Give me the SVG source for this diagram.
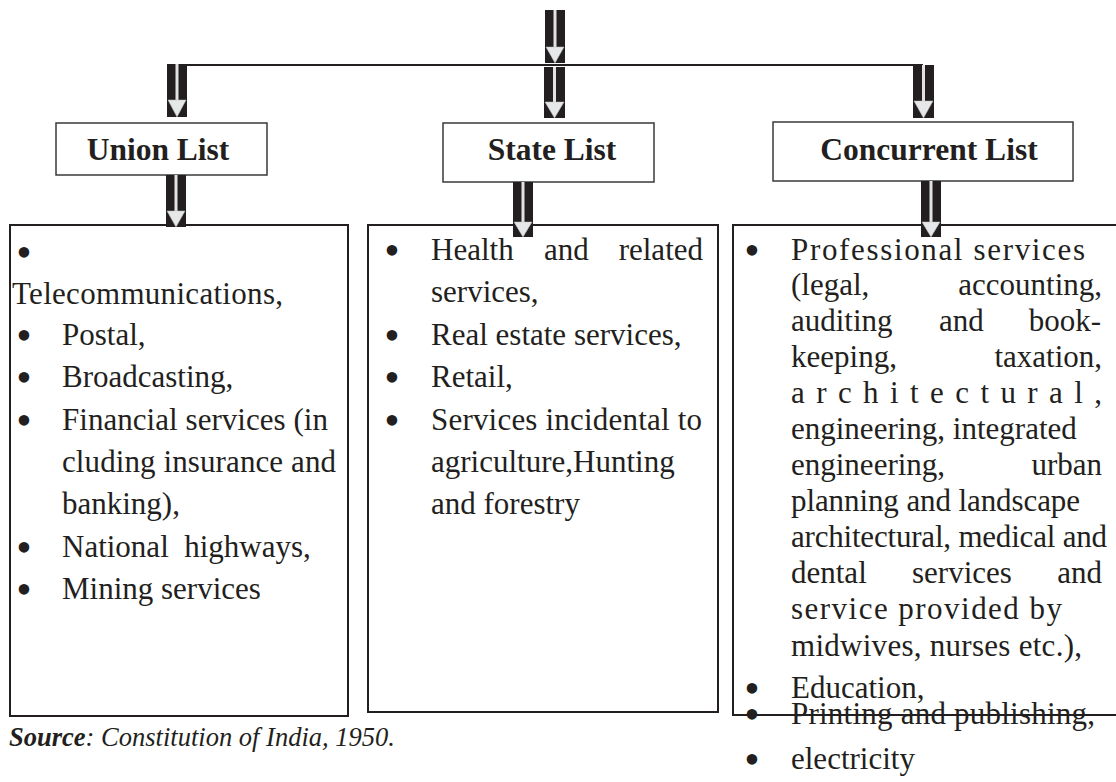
<svg xmlns="http://www.w3.org/2000/svg" width="1116" height="782" viewBox="0 0 1116 782">
<style>
.box{fill:#fff;stroke:#231f20;stroke-width:2}
.hbox{fill:#fff;stroke:#3a3a3a;stroke-width:1.5}
.h{font-family:"Liberation Serif","Times New Roman",serif;font-weight:bold;font-size:31.5px;fill:#231f20;text-anchor:middle}
.t{font-family:"Liberation Serif","Times New Roman",serif;font-size:31px;fill:#231f20}
.e{text-anchor:end}
.b{font-family:"Liberation Serif","Times New Roman",serif;font-size:44px;fill:#231f20;text-anchor:middle}
.src{font-family:"Liberation Serif","Times New Roman",serif;font-size:26.5px;font-style:italic;fill:#231f20}
.ar{fill:#231f20}
.st{stroke:#e2e2e2;stroke-width:3}
.hd{fill:#e6e7e8;stroke:#bcbcbc;stroke-width:0.5}
.ln{stroke:#231f20;stroke-width:2.2;fill:none}
</style>
<g id="connectors">
  <line class="ln" x1="187" y1="65" x2="923" y2="65"/>
  <rect class="ar" x="545" y="10" width="20" height="53"/>
  <line class="st" x1="555" y1="10" x2="555" y2="47"/>
  <polygon class="hd" points="546,47 564,47 555,63"/>
  <rect class="ar" x="544" y="67" width="21" height="51"/>
  <line class="st" x1="554.5" y1="67" x2="554.5" y2="102"/>
  <polygon class="hd" points="545,102 564,102 554.5,118"/>
  <rect class="ar" x="167" y="64" width="20" height="53"/>
  <line class="st" x1="177" y1="64" x2="177" y2="100"/>
  <polygon class="hd" points="168,100 186,100 177,117"/>
  <rect class="ar" x="913" y="65" width="21" height="53"/>
  <line class="st" x1="923.5" y1="65" x2="923.5" y2="101"/>
  <polygon class="hd" points="914,101 933,101 923.5,118"/>
</g>
<g id="union-box">
  <rect class="box" x="10" y="225" width="338" height="491"/>
  <text class="b" x="24" y="267">•</text>
  <text class="t" x="12" y="304" textLength="271" lengthAdjust="spacing">Telecommunications,</text>
  <text class="b" x="24" y="350">•</text><text class="t" x="62" y="345">Postal,</text>
  <text class="b" x="24" y="392">•</text><text class="t" x="62" y="387">Broadcasting,</text>
  <text class="b" x="24" y="435">•</text><text class="t" x="62" y="430" textLength="266" lengthAdjust="spacing">Financial services (in</text>
  <text class="t" x="62" y="472" textLength="274" lengthAdjust="spacing">cluding insurance and</text>
  <text class="t" x="62" y="514">banking),</text>
  <text class="b" x="24" y="562">•</text><text class="t" x="62" y="557" xml:space="preserve">National  highways,</text>
  <text class="b" x="24" y="604">•</text><text class="t" x="62" y="599">Mining services</text>
</g>
<g id="state-box">
  <rect class="box" x="368" y="225" width="350" height="487"/>
  <text class="b" x="392" y="265">•</text>
  <text class="t" y="260"><tspan x="431">Health</tspan><tspan x="544">and</tspan></text>
  <text class="t e" x="703" y="260">related</text>
  <text class="t" x="431" y="302">services,</text>
  <text class="b" x="392" y="350">•</text><text class="t" x="431" y="345">Real estate services,</text>
  <text class="b" x="392" y="392">•</text><text class="t" x="431" y="387">Retail,</text>
  <text class="b" x="392" y="435">•</text><text class="t" x="431" y="430" textLength="271" lengthAdjust="spacing">Services incidental to</text>
  <text class="t" x="431" y="472">agriculture,Hunting</text>
  <text class="t" x="431" y="514">and forestry</text>
</g>
<g id="concurrent-box">
  <rect class="box" x="733" y="225" width="400" height="490"/>
  <text class="b" x="752" y="265">•</text>
  <text class="t" x="791" y="260" textLength="294" lengthAdjust="spacing">Professional services</text>
  <text class="t" x="791" y="295">(legal,</text><text class="t e" x="1102" y="295">accounting,</text>
  <text class="t" y="331"><tspan x="791">auditing</tspan><tspan x="939">and</tspan></text><text class="t e" x="1101" y="331">book-</text>
  <text class="t" x="791" y="367">keeping,</text><text class="t e" x="1102" y="367">taxation,</text>
  <text class="t" x="791" y="403" textLength="311" lengthAdjust="spacing">architectural,</text>
  <text class="t" x="791" y="439">engineering, integrated</text>
  <text class="t" x="791" y="475">engineering,</text><text class="t e" x="1102" y="475">urban</text>
  <text class="t" x="791" y="511" textLength="289" lengthAdjust="spacing">planning and landscape</text>
  <text class="t" x="791" y="547" textLength="316" lengthAdjust="spacing">architectural, medical and</text>
  <text class="t" y="583"><tspan x="791">dental</tspan><tspan x="912">services</tspan></text><text class="t e" x="1102" y="583">and</text>
  <text class="t" x="791" y="619" textLength="271" lengthAdjust="spacing">service provided by</text>
  <text class="t" x="791" y="656" textLength="291" lengthAdjust="spacing">midwives, nurses etc.),</text>
  <text class="b" x="752" y="703">•</text><text class="t" x="791" y="698">Education,</text>
  <text class="b" x="752" y="729">•</text><text class="t" x="791" y="724" textLength="304" lengthAdjust="spacing">Printing and publishing,</text>
  <text class="b" x="752" y="774">•</text><text class="t" x="791" y="769">electricity</text>
</g>
<g id="union-list">
  <rect class="hbox" x="56" y="123" width="211" height="52"/>
  <text class="h" x="158" y="160">Union List</text>
</g>
<g id="state-list">
  <rect class="hbox" x="443" y="123" width="211" height="59"/>
  <text class="h" x="552" y="160">State List</text>
</g>
<g id="concurrent-list">
  <rect class="hbox" x="773" y="122" width="300" height="59"/>
  <text class="h" x="929" y="160">Concurrent List</text>
</g>
<g id="connectors-lower">
  <rect class="ar" x="166" y="175" width="20" height="52"/>
  <line class="st" x1="176" y1="175" x2="176" y2="211"/>
  <polygon class="hd" points="167,211 185,211 176,227"/>
  <rect class="ar" x="513" y="182" width="20" height="55"/>
  <line class="st" x1="523" y1="182" x2="523" y2="222"/>
  <polygon class="hd" points="514,222 532,222 523,237"/>
  <rect class="ar" x="921" y="181" width="20" height="56"/>
  <line class="st" x1="931" y1="181" x2="931" y2="222"/>
  <polygon class="hd" points="922,222 940,222 931,237"/>
</g>
<text class="src" x="9" y="746" textLength="386" lengthAdjust="spacingAndGlyphs"><tspan font-weight="bold">Source</tspan>: Constitution of India, 1950.</text>
</svg>
